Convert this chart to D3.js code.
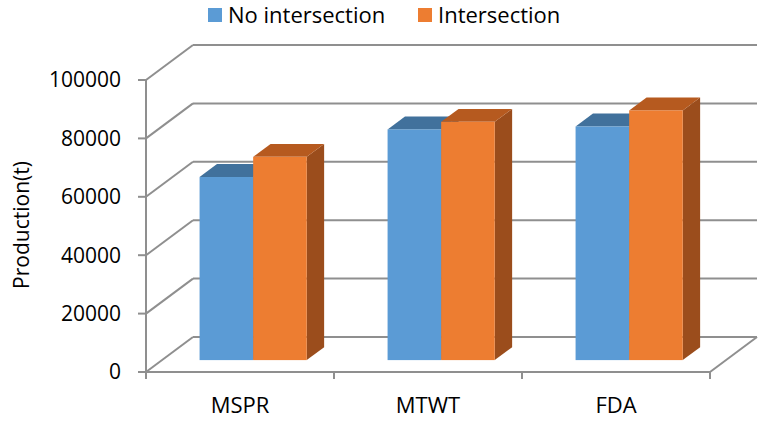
<!DOCTYPE html>
<html>
<head>
<meta charset="utf-8">
<script src="https://cdn.jsdelivr.net/npm/d3@7"></script>
<style>
  body { margin: 0; background: #fff; }
  text { font-family: "Open Sans", sans-serif; fill: #000; }
</style>
</head>
<body>
<script>
// chart data
var categories = ["MSPR", "MTWT", "FDA"]
var seriesNames = ["No intersection", "Intersection"]
var noIntersection = [62700, 79000, 80000]
var intersection = [69600, 81600, 85500]
var yTicks = [0, 20000, 40000, 60000, 80000, 100000]

var seriesColours = [
    { front: "#5b9bd5", top: "#41719c", side: "#3d6a93" },
    { front: "#ed7d31", top: "#b65a1f", side: "#9b4d1c" }
]

var width = 768, height = 424
var svg = d3.select("body").append("svg")
    .attr("width", width)
    .attr("height", height)

// front plane of the 3d box
var x = d3.scaleBand().domain(categories).range([146, 710])
var y = d3.scaleLinear().domain([0, 100000]).range([372, 80])

// depth vector from front plane to back wall
var depthX = 47, depthY = -35
function off(f) { return [depthX * f, depthY * f] }

var grid = "#8f8f8f"

// back wall gridlines + left wall diagonals
yTicks.forEach(function(t) {
    var b = off(1)
    svg.append("line")
        .attr("x1", 146 + b[0]).attr("y1", y(t) + b[1])
        .attr("x2", 710 + b[0]).attr("y2", y(t) + b[1])
        .attr("stroke", grid).attr("stroke-width", 2)
    svg.append("line")
        .attr("x1", 146).attr("y1", y(t))
        .attr("x2", 146 + b[0]).attr("y2", y(t) + b[1])
        .attr("stroke", grid).attr("stroke-width", 2)
    // tick mark on front axis
    svg.append("line")
        .attr("x1", 138).attr("y1", y(t))
        .attr("x2", 146).attr("y2", y(t))
        .attr("stroke", grid).attr("stroke-width", 2)
    svg.append("text")
        .attr("x", 121).attr("y", y(t))
        .attr("dy", "0.35em")
        .attr("text-anchor", "end")
        .style("font-size", "21px")
        .text(t)
})

// floor: front edge and right diagonal
var b1 = off(1)
svg.append("line")
    .attr("x1", 146).attr("y1", y(0)).attr("x2", 710).attr("y2", y(0))
    .attr("stroke", grid).attr("stroke-width", 2)
svg.append("line")
    .attr("x1", 710).attr("y1", y(0)).attr("x2", 710 + b1[0]).attr("y2", y(0) + b1[1])
    .attr("stroke", grid).attr("stroke-width", 2)
// front vertical axis
svg.append("line")
    .attr("x1", 146).attr("y1", y(100000)).attr("x2", 146).attr("y2", y(0) + 7)
    .attr("stroke", grid).attr("stroke-width", 2)
// category ticks
var catEdges = categories.map(function(c) { return x(c) }).concat([x.range()[1]])
catEdges.forEach(function(e) {
    svg.append("line")
        .attr("x1", e).attr("y1", y(0)).attr("x2", e).attr("y2", y(0) + 7)
        .attr("stroke", grid).attr("stroke-width", 2)
})

// bars: front face at depth f0, back face at depth f1
var f0 = 0.34, f1 = 0.71
var barW = x.bandwidth() * 0.285
var barStart = x.bandwidth() * 0.2
var values = [noIntersection, intersection]

categories.forEach(function(c, ci) {
    values.forEach(function(vals, si) {
        var v = vals[ci]
        var o0 = off(f0), o1 = off(f1)
        var xl = x(c) + barStart + si * barW + o0[0]
        var xr = xl + barW
        var yt = y(v) + o0[1]
        var yb = y(0) + o0[1]
        var dx = o1[0] - o0[0], dy = o1[1] - o0[1]
        var col = seriesColours[si]
        // side face
        svg.append("path")
            .attr("d", d3.line()([[xr, yb], [xr + dx, yb + dy], [xr + dx, yt + dy], [xr, yt]]))
            .attr("fill", col.side)
        // top face
        svg.append("path")
            .attr("d", d3.line()([[xl, yt], [xl + dx, yt + dy], [xr + dx, yt + dy], [xr, yt]]))
            .attr("fill", col.top)
        // front face
        svg.append("rect")
            .attr("x", xl).attr("y", yt)
            .attr("width", barW).attr("height", yb - yt)
            .attr("fill", col.front)
    })
})

// category labels
svg.selectAll("text.cat")
    .data(categories)
    .enter()
    .append("text")
        .attr("class", "cat")
        .attr("x", (d) => x(d) + x.bandwidth() / 2)
        .attr("y", 413)
        .attr("text-anchor", "middle")
        .style("font-size", "22px")
        .text((d) => d)

// y axis title
svg.append("text")
    .attr("transform", "translate(29,225) rotate(-90)")
    .attr("text-anchor", "middle")
    .style("font-size", "21px")
    .text("Production(t)")

// legend
var legendX = [208, 418]
seriesNames.forEach(function(n, i) {
    svg.append("rect")
        .attr("x", legendX[i]).attr("y", 8)
        .attr("width", 14).attr("height", 14)
        .attr("fill", seriesColours[i].front)
    svg.append("text")
        .attr("x", legendX[i] + 20).attr("y", 15)
        .attr("dy", "0.35em")
        .style("font-size", "22px")
        .text(n)
})
</script>
</body>
</html>
